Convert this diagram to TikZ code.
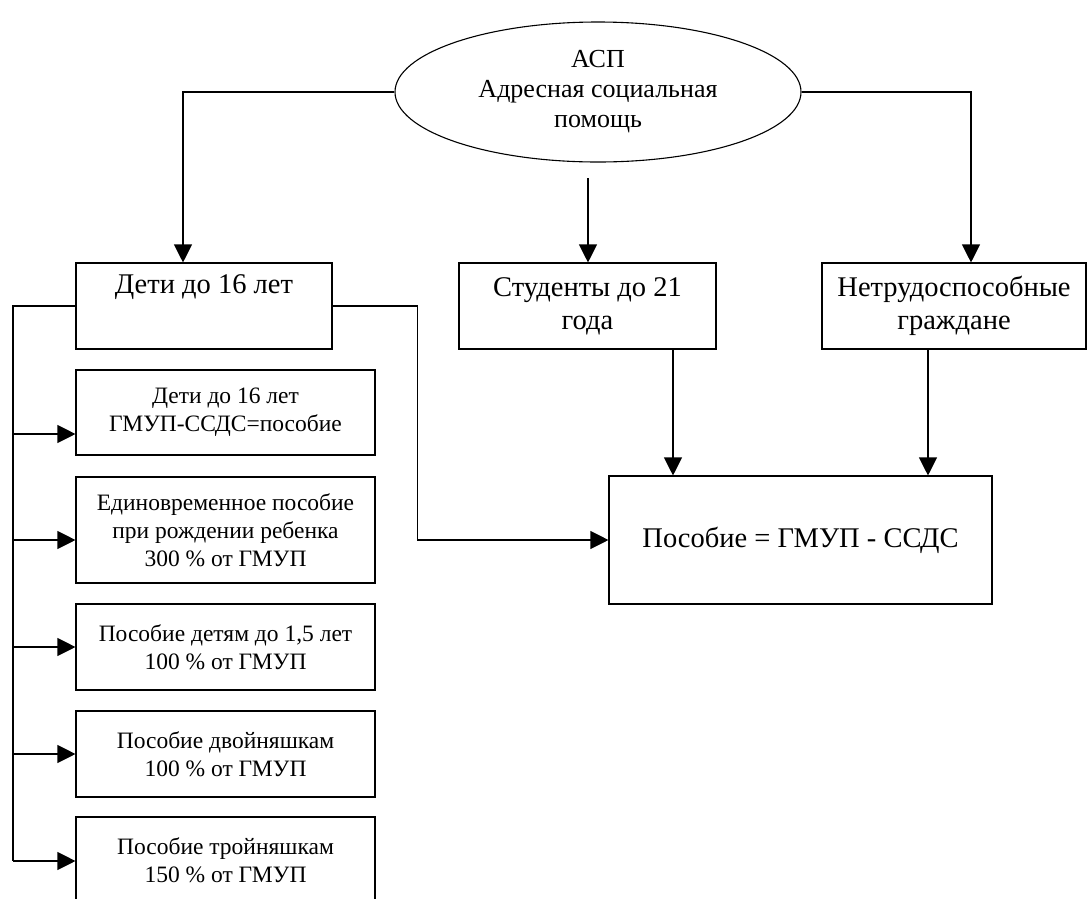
\documentclass[tikz,border=0pt]{standalone}
\usepackage{fontspec}
\setmainfont{Liberation Serif}
\usetikzlibrary{arrows.meta,shapes.geometric,calc}
\begin{document}
\begin{tikzpicture}[x=1pt,y=-1pt,
  line width=1.1pt,
  box/.style={draw, rectangle, inner sep=0pt, align=center,
    font=\fontsize{23.5}{28}\selectfont},
  topbox/.style={box, font=\fontsize{28.5}{33}\selectfont},
  arr/.style={-{Triangle[length=18pt,width=18pt]}}]
\useasboundingbox (0,0) rectangle (1088,898);
\clip (0,0) rectangle (1088,898);

\node[draw, ellipse, minimum width=406pt, minimum height=140pt, inner sep=0pt,
  align=center, font=\fontsize{26}{30}\selectfont] (asp) at (598,92)
  {АСП\\Адресная социальная\\помощь};

\node[topbox, minimum width=256pt, minimum height=86pt] (deti) at (204,306)
  {Дети до 16 лет\\\strut};
\node[topbox, minimum width=257pt, minimum height=86pt] (stud) at (587.5,306)
  {Студенты до 21\\года};
\node[topbox, minimum width=264pt, minimum height=86pt] (netr) at (954,306)
  {Нетрудоспособные\\граждане};

\node[box, minimum width=299pt, minimum height=85pt] (sub1) at (225.5,412.5)
  {Дети до 16 лет\\ГМУП-ССДС=пособие};
\node[box, minimum width=299pt, minimum height=106pt] (sub2) at (225.5,530)
  {Единовременное пособие\\при рождении ребенка\\300 \% от ГМУП};
\node[box, minimum width=299pt, minimum height=86pt] (sub3) at (225.5,647)
  {Пособие детям до 1,5 лет\\100 \% от ГМУП};
\node[box, minimum width=299pt, minimum height=86pt] (sub4) at (225.5,754)
  {Пособие двойняшкам\\100 \% от ГМУП};
\node[box, minimum width=299pt, minimum height=86pt] (sub5) at (225.5,860)
  {Пособие тройняшкам\\150 \% от ГМУП};

\node[topbox, minimum width=383pt, minimum height=128pt] (posob) at (800.5,540)
  {Пособие = ГМУП - ССДС};

\coordinate (lx) at (183,0);
\coordinate (rx) at (971,0);
\coordinate (mtop) at (588,178);
\coordinate (sx) at (673,0);
\coordinate (nx) at (928,0);
\coordinate (bx) at (13,0);

\draw[arr] (asp.west) -| (lx |- deti.north);
\draw[arr] (asp.east) -| (rx |- netr.north);
\draw[arr] (mtop) -- (mtop |- stud.north);
\draw[arr] (sx |- stud.south) -- (sx |- posob.north);
\draw[arr] (nx |- netr.south) -- (nx |- posob.north);
\draw[arr] (deti.east) -- ++(85,0) |- (posob.west);

\draw (deti.west) -| (bx |- 0,861);
\draw[arr] (bx |- 0,434) -- (sub1.west |- 0,434);
\draw[arr] (bx |- 0,540) -- (sub2.west |- 0,540);
\draw[arr] (bx |- 0,647) -- (sub3.west |- 0,647);
\draw[arr] (bx |- 0,754) -- (sub4.west |- 0,754);
\draw[arr] (bx |- 0,861) -- (sub5.west |- 0,861);
\end{tikzpicture}
\end{document}
